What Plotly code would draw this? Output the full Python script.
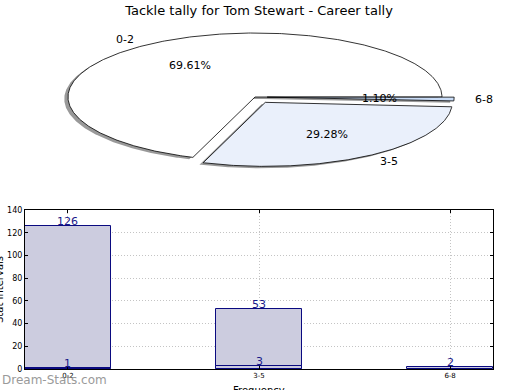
import numpy as np
import plotly.graph_objects as go

# ---- data ----
categories = ["0-2", "3-5", "6-8"]
frequency = [126, 53, 2]
inner_values = [1, 3, None]
y_ticks = [0, 20, 40, 60, 80, 100, 120, 140]
title_text = "Tackle tally for Tom Stewart - Career tally"

# ---- style ----
slice_colors = ["#ffffff", "#eaf0fb", "#c9dcf7"]
explode = [0.0, 0.1, 0.065]
bar_fill = "#ccccdf"
bar_edge = "#0a0a80"
label_color = "#1a1a8a"
W, H = 520, 390

def px_x(p):
    return p / W

def px_y(p):
    return 1 - p / H

fig = go.Figure()

# ---- pie (elliptical, drawn on its own hidden axes) ----
total = sum(frequency)
fracs = [v / total for v in frequency]
start = 0.0
wedges = []
for i, f in enumerate(fracs):
    a0, a1 = start, start + f * 360
    start = a1
    mid = np.radians((a0 + a1) / 2)
    ox, oy = explode[i] * np.cos(mid), explode[i] * np.sin(mid)
    th = np.radians(np.linspace(a0, a1, max(int(abs(a1 - a0)) * 2, 8)))
    xs = np.concatenate([[0], np.cos(th), [0]]) + ox
    ys = np.concatenate([[0], np.sin(th), [0]]) + oy
    wedges.append((xs, ys, mid, ox, oy))

# shadows
for xs, ys, mid, ox, oy in wedges:
    fig.add_trace(go.Scatter(x=xs - 0.02, y=ys - 0.03, mode="lines", fill="toself",
                             fillcolor="rgba(0,0,0,0.4)", line=dict(width=0),
                             xaxis="x2", yaxis="y2", hoverinfo="skip", showlegend=False))
# wedges
for i, (xs, ys, mid, ox, oy) in enumerate(wedges):
    fig.add_trace(go.Scatter(x=xs, y=ys, mode="lines", fill="toself",
                             fillcolor=slice_colors[i], line=dict(color="black", width=0.8),
                             xaxis="x2", yaxis="y2", hoverinfo="skip", showlegend=False))

annotations = []
for i, (xs, ys, mid, ox, oy) in enumerate(wedges):
    lx = ox + 1.1 * np.cos(mid)
    ly = oy + 1.1 * np.sin(mid)
    annotations.append(dict(x=lx, y=ly, xref="x2", yref="y2", text=categories[i],
                            showarrow=False, xanchor="left" if lx > 0 else "right",
                            yanchor="middle", font=dict(size=11, color="black")))
    annotations.append(dict(x=ox + 0.6 * np.cos(mid), y=oy + 0.6 * np.sin(mid),
                            xref="x2", yref="y2", text=f"{fracs[i]*100:.2f}%",
                            showarrow=False, xanchor="center", yanchor="middle",
                            font=dict(size=11, color="black")))

# ---- bars ----
for vals in (frequency, inner_values):
    fig.add_trace(go.Bar(x=categories, y=vals, width=0.45,
                         marker=dict(color=bar_fill, line=dict(color=bar_edge, width=1)),
                         xaxis="x", yaxis="y", showlegend=False))
    for c, v in zip(categories, vals):
        if v is None:
            continue
        annotations.append(dict(x=c, y=v, xref="x", yref="y", text=str(v),
                                showarrow=False, xanchor="center", yanchor="bottom",
                                yshift=-4, font=dict(size=11, color=label_color)))

annotations += [
    dict(x=px_x(259), y=px_y(383), xref="paper", yref="paper", text="Frequency",
         showarrow=False, xanchor="center", yanchor="top", font=dict(size=10, color="black")),
    dict(x=px_x(-1), y=px_y(290), xref="paper", yref="paper", text="Stat Intervals",
         showarrow=False, textangle=-90, xanchor="center", yanchor="middle",
         font=dict(size=10, color="black")),
    dict(x=0, y=px_y(380), xref="paper", yref="paper", text="Dream-Stats.com",
         showarrow=False, xanchor="left", yanchor="middle",
         font=dict(size=12, color="#9a9a9a", family="DejaVu Sans")),
]

a_px, b_px, cx, cy = 187.0, 64.0, 255.0, 97.0
pie_top, pie_bot = 22.0, 190.0

grid = dict(showgrid=True, gridcolor="#c4c4c4", griddash="1px,2px", gridwidth=1)

fig.update_layout(
    width=W, height=H, margin=dict(l=0, r=0, t=0, b=0, autoexpand=False),
    paper_bgcolor="white", plot_bgcolor="white",
    font=dict(family="DejaVu Sans", color="black"),
    barmode="overlay", bargap=0,
    title=dict(text=title_text, x=px_x(259), y=px_y(10), xanchor="center",
               yanchor="middle", font=dict(size=13, color="black"), automargin=False),
    xaxis=dict(domain=[px_x(25), px_x(493)], type="category", automargin=False,
               range=[-0.2245, 2.2245], showline=True, linecolor="black", linewidth=1,
               mirror="ticks", ticks="inside", ticklen=3, tickcolor="black",
               tickfont=dict(size=7), zeroline=False, anchor="y", **grid),
    yaxis=dict(domain=[px_y(369), px_y(210)], range=[0, 140], tickvals=y_ticks,
               automargin=False,
               showline=True, linecolor="black", linewidth=1, mirror="ticks",
               ticks="inside", ticklen=3, tickcolor="black",
               tickfont=dict(size=8), zeroline=False, anchor="x", **grid),
    xaxis2=dict(domain=[0, 1], range=[-cx / a_px, (W - cx) / a_px], visible=False,
                anchor="y2", automargin=False),
    yaxis2=dict(domain=[px_y(pie_bot), px_y(pie_top)], automargin=False,
                range=[-(pie_bot - cy) / b_px, (cy - pie_top) / b_px], visible=False,
                anchor="x2"),
    annotations=annotations,
)

fig.write_html("out.html", config={"displayModeBar": False},
               post_script="document.body.style.margin='0';document.body.style.overflow='hidden';")
